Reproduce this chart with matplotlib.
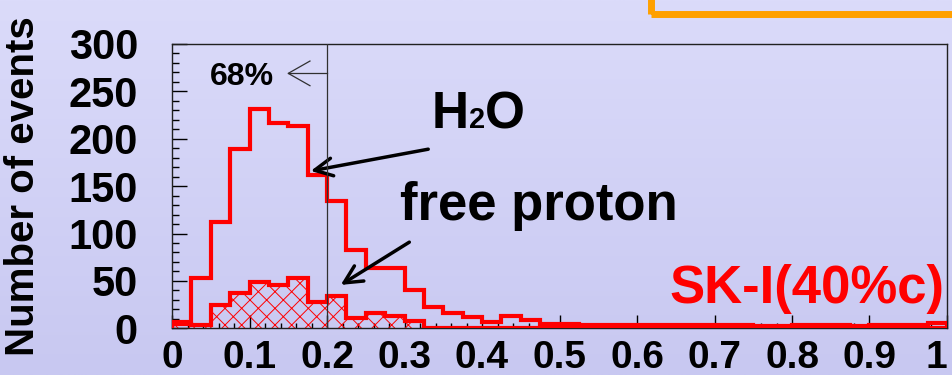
import numpy as np
import matplotlib
matplotlib.use("Agg")
import matplotlib.pyplot as plt
from matplotlib.patches import Rectangle

plt.rcParams['font.family'] = ['Liberation Sans', 'DejaVu Sans']
plt.rcParams['font.weight'] = 'bold'
plt.rcParams['hatch.linewidth'] = 0.7

# Data: 40 bins of width 0.025 from 0 to 1
edges = np.linspace(0, 1, 41)
h2o = [7, 53, 112, 189, 231, 217, 213, 162, 134, 83,
       64, 64, 40, 22, 16, 12, 7, 13, 9, 5,
       5, 3, 4, 4, 4, 4, 3, 4, 4, 4,
       2, 2, 3, 3, 3, 2, 3, 3, 3, 6]
free_proton = [5, 3, 25, 37, 49, 46, 53, 28, 34, 11,
               16, 13, 8, 0, 0, 0, 0, 0, 0, 0,
               0, 0, 0, 0, 0, 0, 0, 0, 0, 0,
               0, 0, 0, 0, 0, 0, 0, 0, 0, 0]
cut68 = 0.2
xticks = np.arange(0, 1.01, 0.1)
xtick_labels = ['0', '0.1', '0.2', '0.3', '0.4', '0.5', '0.6', '0.7', '0.8', '0.9', '1']
yticks = [0, 50, 100, 150, 200, 250, 300]

red = '#ff0000'

fig = plt.figure(figsize=(9.53, 3.75), dpi=100)

# lavender gradient background
bg = fig.add_axes([0, 0, 1, 1], zorder=-1)
top = np.array([219, 219, 250]) / 255
bot = np.array([200, 200, 241]) / 255
t = np.linspace(0, 1, 200)[:, None]
grad = top[None, None, :] * (1 - t[..., None]) + bot[None, None, :] * t[..., None]
grad = np.repeat(grad, 2, axis=1)
bg.imshow(grad, aspect='auto', extent=[0, 1, 0, 1])
bg.axis('off')

# orange box edge peeking in at top right
fig.add_artist(Rectangle((0.6836, 0.964), 0.5, 0.2, transform=fig.transFigure,
                         fill=False, edgecolor='#ffa000', lw=5))

ax = fig.add_axes([0.1805, 0.1245, 0.8132, 0.7582])
ax.set_facecolor('none')

# histograms
ax.stairs(free_proton, edges, fill=True, facecolor='none', edgecolor=red,
          hatch='xx', lw=0, zorder=2)
ax.stairs(free_proton, edges, color=red, lw=3, zorder=3)
ax.stairs(h2o, edges, color=red, lw=3, zorder=3)

# 68% cut line and marker
ax.axvline(cut68, color='#303030', lw=0.9, zorder=5)
ay = 269
ax.plot([cut68, 0.15], [ay, ay], color='#303030', lw=0.9, zorder=5)
ax.plot([0.178, 0.15, 0.178], [ay + 13, ay, ay - 13], color='#303030', lw=0.9, zorder=5)
ax.text(0.09, 257, '68%', fontsize=23, ha='center', va='baseline', color='black')

# H2O label with small "2" on the baseline
h = ax.text(0.335, 211, 'H', fontsize=37, ha='left', va='baseline')
two = ax.annotate('2', xy=(1, 211), xycoords=(h, 'data'), fontsize=21,
                  ha='left', va='baseline')
ax.annotate('O', xy=(1, 211), xycoords=(two, 'data'), fontsize=37,
            ha='left', va='baseline')
ax.annotate('', xy=(0.179, 166), xytext=(0.3306, 189),
            arrowprops=dict(arrowstyle='->,head_length=0.8,head_width=0.4',
                            mutation_scale=16, lw=2.5, color='black',
                            shrinkA=0, shrinkB=0))

ax.text(0.294, 114.5, 'free proton', fontsize=38, ha='left', va='baseline')
ax.annotate('', xy=(0.2177, 45.8), xytext=(0.3062, 90.9),
            arrowprops=dict(arrowstyle='->,head_length=0.8,head_width=0.4',
                            mutation_scale=16, lw=2.5, color='black',
                            shrinkA=0, shrinkB=0))

ax.text(0.997, 26.4, 'SK-I(40%c)', fontsize=38, ha='right', va='baseline', color=red)

# axes
ax.set_xlim(0, 1)
ax.set_ylim(0, 300)
ax.set_xticks(xticks)
ax.set_xticklabels(xtick_labels)
ax.set_yticks(yticks)
ax.set_xticks(np.arange(0, 1.001, 0.02), minor=True)
ax.set_yticks(np.arange(0, 301, 10), minor=True)
ax.tick_params(axis='both', which='both', direction='in', top=False, right=False,
               color='black')
ax.tick_params(axis='y', which='major', length=11, width=1, pad=24.5, labelsize=30)
ax.tick_params(axis='y', which='minor', length=5, width=1)
ax.tick_params(axis='x', which='major', length=9.5, width=1, pad=8.5, labelsize=28)
ax.tick_params(axis='x', which='minor', length=3.6, width=1)
ax.xaxis.get_majorticklabels()[-1].set_horizontalalignment('right')
for s in ax.spines.values():
    s.set_linewidth(1)
    s.set_color('#202020')

ax.set_ylabel('Number of events', fontsize=29, fontweight='bold')
ax.yaxis.set_label_coords(-0.168, 0.5)

fig.savefig('out.png', dpi=100)
